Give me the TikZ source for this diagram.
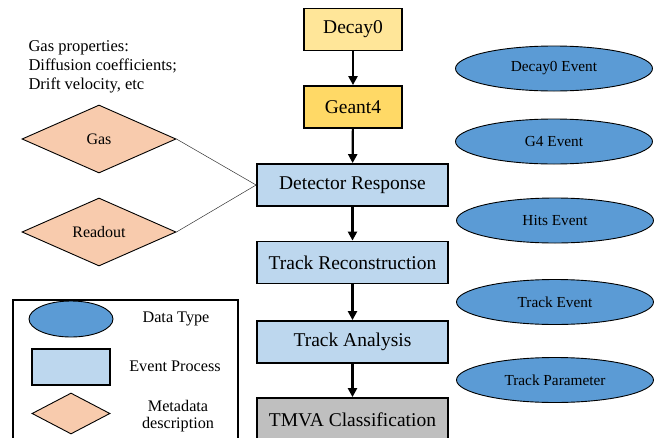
\documentclass[tikz,border=0pt]{standalone}
\usepackage{fontspec}
\setmainfont{Liberation Serif}
\usetikzlibrary{shapes.geometric,arrows.meta}
\definecolor{yA}{HTML}{FFE699}
\definecolor{yB}{HTML}{FFD966}
\definecolor{procblue}{HTML}{BDD7EE}
\definecolor{datablue}{HTML}{5B9BD5}
\definecolor{meta}{HTML}{F8CBAD}
\definecolor{tmva}{HTML}{BFBFBF}
\tikzset{
  proc/.style={draw=black, line width=1.8pt, minimum height=42pt, font=\fontsize{19.5}{21}\selectfont, inner sep=0pt},
  data/.style={ellipse, draw=black, line width=0.9pt, fill=datablue, minimum width=197pt, minimum height=45pt, font=\fontsize{15.3}{16}\selectfont, inner sep=0pt},
  metad/.style={diamond, draw=black, line width=0.9pt, fill=meta, minimum width=154pt, minimum height=68pt, aspect=2.2, inner sep=0pt, font=\fontsize{16}{18}\selectfont},
  flow/.style={line width=2.2pt, -{Triangle[length=9pt,width=9pt]}},
  thin/.style={line width=0.5pt, draw=black!80},
  legtext/.style={font=\fontsize{16.2}{18}\selectfont}
}
\begin{document}
\begin{tikzpicture}[x=1pt,y=-1pt]
\useasboundingbox (0,0) rectangle (654,437);
\clip (0,0) rectangle (654,437);
% process chain
\node[proc, fill=yA, minimum width=98pt] (decay) at (353,29.5) {Decay0};
\node[proc, fill=yB, minimum width=98pt] (geant) at (353,107) {Geant4};
\node[proc, fill=procblue, minimum width=191pt] (det) at (352.5,185) {Detector Response};
\node[proc, fill=procblue, minimum width=191pt] (rec) at (352.5,262.5) {Track Reconstruction};
\node[proc, fill=procblue, minimum width=191pt] (ana) at (352.5,342) {Track Analysis};
\node[proc, fill=tmva, minimum width=191pt, minimum height=46pt] (tmva) at (352.5,421) {};
\node[font=\fontsize{19.5}{21}\selectfont] (tmvat) at (352.5,419.5) {TMVA Classification};
\draw[flow] (decay) -- (geant);
\draw[flow] (geant) -- (det);
\draw[flow] (det) -- (rec);
\draw[flow] (rec) -- (ana);
\draw[flow] (ana) -- (tmva);
% data types
\node[data] (e1) at (554,68.5) {Decay0 Event};
\node[data] (e2) at (554,141.5) {G4 Event};
\node[data] (e3) at (555,220.5) {Hits Event};
\node[data] (e4) at (555,302) {Track Event};
\node[data] (e5) at (555,380) {Track Parameter};
% metadata
\node[metad] (gas) at (99,139) {Gas};
\node[metad] (rd) at (99,232) {Readout};
\draw[thin] (gas.east) -- (det.west);
\draw[thin] (rd.east) -- (det.west);
\node[anchor=west, align=left, font=\fontsize{16.5}{18.7}\selectfont] (gp) at (25,67) {Gas properties:\\Diffusion coefficients;\\Drift velocity, etc};
% legend
\node[draw=black, line width=2pt, minimum width=225pt, minimum height=150pt, anchor=north west, inner sep=0pt] (leg) at (12,299) {};
\node[ellipse, draw=black, line width=0.9pt, fill=datablue, minimum width=84pt, minimum height=36pt, inner sep=0pt] (le) at (71,319) {};
\node[draw=black, line width=1.8pt, fill=procblue, minimum width=78pt, minimum height=36pt, inner sep=0pt] (lr) at (71,367) {};
\node[diamond, draw=black, line width=0.9pt, fill=meta, minimum width=78pt, minimum height=41pt, aspect=1.9, inner sep=0pt] (ld) at (71,413.5) {};
\node[legtext] (lt1) at (176,319) {Data Type};
\node[legtext] (lt2) at (175,366) {Event Process};
\node[legtext, align=center, font=\fontsize{16.2}{16.5}\selectfont] (lt3) at (178,416) {Metadata\\description};
\end{tikzpicture}
\end{document}
